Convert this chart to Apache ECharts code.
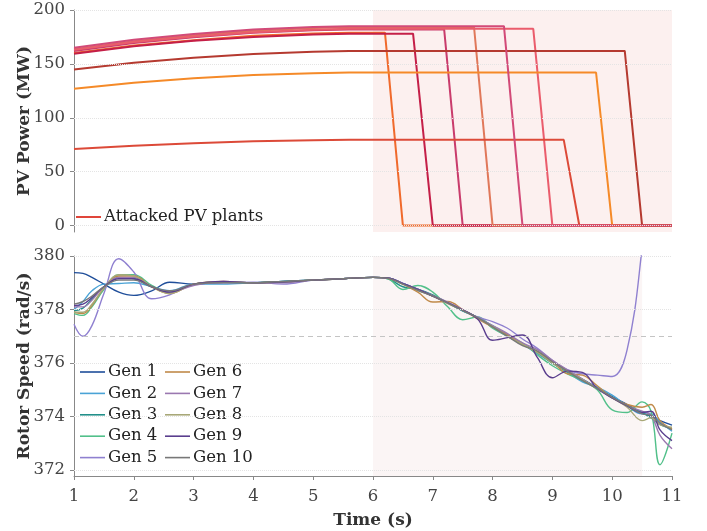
<!DOCTYPE html>
<html>
<head>
<meta charset="utf-8">
<script src="https://cdn.jsdelivr.net/npm/echarts@6/dist/echarts.min.js"></script>
<style>
  html, body { margin: 0; padding: 0; background: #fff; }
  #chart { width: 707px; height: 531px; }
</style>
</head>
<body>
<div id="chart"></div>
<script>
// PV plants: ramp-up times, then trip window (start of drop / reached zero)
var riseT = [1, 2, 3, 4, 5, 5.6];
var plantRise = [
  [160, 167, 172, 176, 178.3, 179],
  [162, 169.4, 174.8, 178.8, 181.2, 182],
  [159.5, 166.3, 171.4, 175, 177.3, 178],
  [163.5, 171, 176.6, 180.7, 183.2, 184],
  [163, 170.2, 175.5, 179.4, 181.7, 182.5],
  [71, 74.1, 76.4, 78.1, 79.1, 79.5],
  [127, 132.5, 136.6, 139.6, 141.4, 142],
  [144.7, 151.1, 155.8, 159.2, 161.3, 162],
  [165, 172.4, 177.8, 181.8, 184.2, 185]
];
var tripStart = [6.20, 7.19, 6.67, 7.69, 8.68, 9.19, 9.73, 10.21, 8.19];
var tripEnd = [6.50, 7.50, 7.00, 8.00, 9.00, 9.45, 10.00, 10.50, 8.50];
var plantColors = ['#f06a2c', '#c93c6c', '#c41f48', '#e0785a', '#ea5c6c', '#dc4a38', '#f58a28', '#b53a30', '#d24a78'];

var pvTicks = [0, 50, 100, 150, 200];
var speedTicks = [372, 374, 376, 378, 380];
var attackTop = [6, 11];
var attackBottom = [6, 10.5];
var speedLimit = 377;

// generator rotor speeds
var genTime = [1, 1.15, 1.3, 1.5, 1.75, 2, 2.3, 2.6, 3, 3.5, 4, 4.5, 5, 5.5, 6,
  6.25, 6.5, 6.75, 7, 7.25, 7.5, 7.75, 8, 8.25, 8.5, 8.75, 9, 9.25, 9.5, 9.75, 10, 10.25, 10.5, 10.65, 10.8, 11];
var gen1 = [379.38, 379.35, 379.2, 378.95, 378.65, 378.53, 378.7, 379.02, 378.95, 379.02, 379.0, 379.05, 379.1, 379.15, 379.2,
  379.18, 378.98, 378.76, 378.52, 378.25, 377.98, 377.7, 377.38, 377.05, 376.72, 376.4, 376.05, 375.72, 375.4, 375.08, 374.75, 374.45, 374.15, 374.0, 373.85, 373.68];
var gen2 = [378.0, 378.3, 378.7, 378.95, 378.97, 379.0, 378.85, 378.7, 378.95, 378.95, 379.0, 379.05, 379.1, 379.15, 379.2,
  379.18, 378.97, 378.72, 378.5, 378.25, 377.95, 377.7, 377.4, 377.05, 376.7, 376.35, 376.0, 375.65, 375.3, 375.1, 374.8, 374.4, 374.1, 374.1, 373.8, 373.45];
var gen3 = [377.95, 378.05, 378.4, 378.85, 379.2, 379.15, 378.85, 378.65, 378.95, 379.02, 379.0, 379.05, 379.1, 379.15, 379.2,
  379.15, 378.85, 378.75, 378.55, 378.25, 377.95, 377.7, 377.35, 377.0, 376.72, 376.4, 376.0, 375.68, 375.35, 375.05, 374.72, 374.4, 374.15, 373.95, 373.7, 373.55];
var gen4 = [377.85, 377.78, 378.1, 378.75, 379.3, 379.3, 378.9, 378.65, 378.95, 379.03, 379.0, 379.03, 379.1, 379.15, 379.2,
  379.15, 378.75, 378.9, 378.65, 378.1, 377.62, 377.72, 377.3, 377.0, 376.75, 376.3, 375.9, 375.6, 375.35, 375.0, 374.25, 374.15, 374.55, 374.2, 372.2, 373.38];
var gen5 = [377.45, 377.0, 377.4, 378.6, 379.9, 379.4, 378.4, 378.55, 378.95, 379.0, 379.02, 378.95, 379.1, 379.15, 379.2,
  379.18, 378.98, 378.75, 378.5, 378.25, 377.98, 377.72, 377.55, 377.3, 376.9, 376.55, 376.1, 375.75, 375.6, 375.55, 375.5, 376.5, 380.3, 384, 388, 392];
var gen6 = [377.9, 377.85, 378.15, 378.8, 379.25, 379.25, 378.85, 378.6, 378.95, 379.05, 379.0, 379.03, 379.1, 379.15, 379.2,
  379.17, 378.95, 378.65, 378.28, 378.3, 378.0, 377.65, 377.35, 377.05, 376.7, 376.4, 376.05, 375.6, 375.55, 375.15, 374.7, 374.45, 374.35, 374.45, 373.85, 373.55];
var gen7 = [378.1, 378.1, 378.35, 378.85, 379.2, 379.2, 378.85, 378.65, 378.9, 379.05, 379.0, 379.0, 379.1, 379.15, 379.2,
  379.18, 378.97, 378.75, 378.52, 378.28, 378.0, 377.7, 377.4, 377.1, 376.75, 376.5, 376.1, 375.75, 375.4, 375.05, 374.7, 374.4, 374.2, 374.05, 373.3, 372.8];
var gen8 = [377.9, 377.9, 378.2, 378.8, 379.3, 379.25, 378.85, 378.6, 378.95, 379.03, 379.0, 379.03, 379.1, 379.15, 379.2,
  379.17, 378.95, 378.72, 378.5, 378.22, 377.97, 377.68, 377.37, 377.0, 376.7, 376.4, 376.0, 375.7, 375.38, 375.05, 374.7, 374.35, 373.85, 373.95, 373.7, 373.6];
var gen9 = [378.15, 378.2, 378.45, 378.85, 379.15, 379.15, 378.85, 378.65, 378.95, 379.05, 379.0, 379.03, 379.1, 379.15, 379.2,
  379.18, 378.97, 378.75, 378.5, 378.25, 377.98, 377.65, 376.85, 376.95, 377.05, 376.2, 375.45, 375.7, 375.65, 375.05, 374.7, 374.4, 374.15, 374.2, 373.5, 373.1];
var gen10 = [378.2, 378.3, 378.5, 378.85, 379.1, 379.1, 378.85, 378.7, 378.95, 379.0, 379.0, 379.05, 379.1, 379.15, 379.2,
  379.17, 378.95, 378.72, 378.5, 378.25, 377.97, 377.7, 377.35, 377.0, 376.65, 376.45, 376.05, 375.7, 375.35, 375.05, 374.72, 374.42, 374.1, 374.05, 373.75, 373.5];
var genValues = [gen1, gen2, gen3, gen4, gen5, gen6, gen7, gen8, gen9, gen10];
var genNames = ['Gen 1', 'Gen 2', 'Gen 3', 'Gen 4', 'Gen 5', 'Gen 6', 'Gen 7', 'Gen 8', 'Gen 9', 'Gen 10'];
var genColors = ['#1f4e9a', '#4aa3d6', '#23908a', '#52c08a', '#8f80d0', '#c08a4a', '#9a78b0', '#a8a878', '#5a3e8e', '#787878'];

var FONT = 'DejaVu Serif';
var labelStyle = { fontFamily: FONT, fontSize: 16.5, color: '#444' };
var nameStyle = { fontFamily: FONT, fontSize: 17, fontWeight: 'bold', color: '#333' };
var gridLine = { color: '#e4e4e4', type: 'dotted', width: 1 };

var series = [];

// background shading + grid lines, top panel
series.push({
  type: 'line', xAxisIndex: 0, yAxisIndex: 0, data: [], z: 1, silent: true,
  markArea: {
    silent: true,
    itemStyle: { color: 'rgba(230,130,122,0.12)' },
    data: [[{ xAxis: attackTop[0] }, { xAxis: attackTop[1] }]]
  },
  markLine: {
    silent: true, symbol: 'none', label: { show: false },
    lineStyle: gridLine,
    data: pvTicks.map(function (v) { return { yAxis: v }; })
  }
});

plantRise.forEach(function (vals, i) {
  var pts = riseT.map(function (t, k) { return [t, vals[k]]; });
  var plateau = vals[vals.length - 1];
  pts.push([tripStart[i], plateau]);
  pts.push([tripEnd[i], 0]);
  pts.push([11, 0]);
  series.push({
    name: 'Attacked PV plants',
    type: 'line', xAxisIndex: 0, yAxisIndex: 0, z: 3,
    data: pts, symbol: 'none',
    lineStyle: { color: plantColors[i], width: 2 },
    itemStyle: { color: plantColors[i] }
  });
});

// bottom panel shading, grid lines, threshold
series.push({
  type: 'line', xAxisIndex: 1, yAxisIndex: 1, data: [], z: 1, silent: true,
  markArea: {
    silent: true,
    itemStyle: { color: 'rgba(222,172,172,0.12)' },
    data: [[{ xAxis: attackBottom[0] }, { xAxis: attackBottom[1] }]]
  },
  markLine: {
    silent: true, symbol: 'none', label: { show: false },
    lineStyle: gridLine,
    data: speedTicks.map(function (v) { return { yAxis: v }; })
  }
});
series.push({
  type: 'line', xAxisIndex: 1, yAxisIndex: 1, data: [], z: 2, silent: true,
  markLine: {
    silent: true, symbol: 'none', label: { show: false },
    lineStyle: { color: '#c4c4c4', type: [5, 4], width: 1 },
    data: [{ yAxis: speedLimit }]
  }
});

genValues.forEach(function (vals, i) {
  series.push({
    name: genNames[i],
    type: 'line', xAxisIndex: 1, yAxisIndex: 1, z: 3,
    data: genTime.map(function (t, k) { return [t, vals[k]]; }),
    symbol: 'none', smooth: 0.4,
    lineStyle: { color: genColors[i], width: 1.4 },
    itemStyle: { color: genColors[i] }
  });
});

function makeLegend(left, top, names, lineH, gap) {
  return {
    orient: 'vertical', left: left, top: top, padding: 0,
    icon: 'rect', itemWidth: 25, itemHeight: lineH, itemGap: gap,
    textStyle: { fontFamily: FONT, fontSize: 16.5, color: '#222', lineHeight: 17, padding: [0, 0, 0, -2] },
    selectedMode: false,
    data: names
  };
}

var myChart = echarts.init(document.getElementById('chart'));
var option = {
  animation: false,
  backgroundColor: '#fff',
  grid: [
    { left: 74, top: 10, width: 598, height: 222 },
    { left: 74, top: 256, width: 598, height: 220 }
  ],
  legend: [
    makeLegend(76, 208.5, [{ name: 'Attacked PV plants', itemStyle: { color: '#e0453a' } }], 2, 4.4),
    makeLegend(80, 363.5, genNames.slice(0, 5), 1.6, 4.4),
    makeLegend(165, 363.5, genNames.slice(5), 1.6, 4.4)
  ],
  xAxis: [
    {
      type: 'value', gridIndex: 0, min: 1, max: 11, interval: 1,
      axisLine: { show: false }, axisTick: { show: false }, axisLabel: { show: false }, splitLine: { show: false }
    },
    {
      type: 'value', gridIndex: 1, min: 1, max: 11, interval: 1,
      name: 'Time (s)', nameLocation: 'middle', nameGap: 36, nameTextStyle: nameStyle,
      axisLine: { lineStyle: { color: '#888' } },
      axisTick: { length: 4, lineStyle: { color: '#888' } },
      axisLabel: Object.assign({ margin: 12 }, labelStyle),
      splitLine: { show: false }
    }
  ],
  yAxis: [
    {
      type: 'value', gridIndex: 0, min: -6, max: 200,
      name: 'PV Power (MW)', nameLocation: 'middle', nameGap: 41, nameMoveOverlap: false, nameTextStyle: nameStyle,
      axisLine: { show: true, lineStyle: { color: '#888' } },
      axisTick: { show: true, length: 4, customValues: pvTicks, lineStyle: { color: '#888' } },
      axisLabel: Object.assign({ margin: 9, customValues: pvTicks }, labelStyle),
      splitLine: { show: false }
    },
    {
      type: 'value', gridIndex: 1, min: 371.78, max: 380,
      name: 'Rotor Speed (rad/s)', nameLocation: 'middle', nameGap: 41, nameMoveOverlap: false, nameTextStyle: nameStyle,
      axisLine: { show: true, lineStyle: { color: '#888' } },
      axisTick: { show: true, length: 4, customValues: speedTicks, lineStyle: { color: '#888' } },
      axisLabel: Object.assign({ margin: 9, customValues: speedTicks }, labelStyle),
      splitLine: { show: false }
    }
  ],
  series: series
};
myChart.setOption(option);
</script>
</body>
</html>
